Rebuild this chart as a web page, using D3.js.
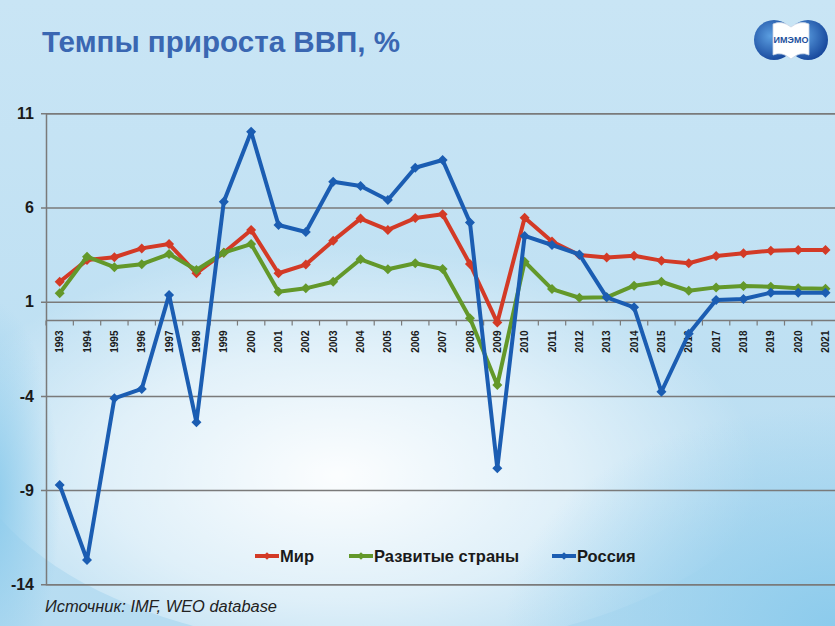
<!DOCTYPE html>
<html>
<head>
<meta charset="utf-8">
<script src="https://cdn.jsdelivr.net/npm/d3@7"></script>
<style>
  body { margin: 0; background: #fff; }
  svg { display: block; font-family: "Liberation Sans", Arial, sans-serif; }
</style>
</head>
<body>
<main></main>
<script>
// data (IMF WEO, % growth)
const years = d3.range(1993, 2022).map(String);
const world = [2.06, 3.21, 3.36, 3.83, 4.06, 2.51, 3.60, 4.81, 2.51, 2.97, 4.24, 5.41, 4.81, 5.44, 5.64, 3.00, -0.11, 5.46, 4.19, 3.48, 3.34, 3.44, 3.18, 3.04, 3.43, 3.57, 3.71, 3.74, 3.74];
const developed = [1.45, 3.39, 2.83, 2.99, 3.53, 2.68, 3.60, 4.06, 1.53, 1.71, 2.06, 3.25, 2.72, 3.04, 2.74, 0.12, -3.42, 3.12, 1.67, 1.21, 1.23, 1.85, 2.06, 1.58, 1.76, 1.83, 1.80, 1.71, 1.69];
const russia = [-8.73, -12.71, -4.13, -3.63, 1.36, -5.40, 6.31, 10.02, 5.07, 4.70, 7.37, 7.14, 6.40, 8.11, 8.52, 5.21, -7.84, 4.49, 4.01, 3.51, 1.23, 0.70, -3.78, -0.70, 1.09, 1.14, 1.48, 1.48, 1.48];
const yTicks = [11, 6, 1, -4, -9, -14];
const seriesNames = ["Мир", "Развитые страны", "Россия"];
const seriesColours = ["#d33a26", "#63982a", "#1b5db2"];

const W = 835, H = 626;

let svg = d3.select("main").append("svg").attr("width", W).attr("height", H);
let defs = svg.append("defs");

// background gradients
let bg = defs.append("linearGradient").attr("id", "bg").attr("x1", 0).attr("y1", 0).attr("x2", 0).attr("y2", 1);
bg.append("stop").attr("offset", 0).attr("stop-color", "#c9e5f5");
bg.append("stop").attr("offset", 1).attr("stop-color", "#b6dcf1");

let glow = defs.append("radialGradient").attr("id", "glow")
  .attr("cx", 0.45).attr("cy", 0.62).attr("r", 0.5);
glow.append("stop").attr("offset", 0).attr("stop-color", "#ffffff").attr("stop-opacity", 0.95);
glow.append("stop").attr("offset", 0.55).attr("stop-color", "#ffffff").attr("stop-opacity", 0.55);
glow.append("stop").attr("offset", 1).attr("stop-color", "#ffffff").attr("stop-opacity", 0);

let edge = defs.append("radialGradient").attr("id", "edge").attr("cx", 0.5).attr("cy", 0.5).attr("r", 0.5);
edge.append("stop").attr("offset", 0).attr("stop-color", "#8ccbec").attr("stop-opacity", 1);
edge.append("stop").attr("offset", 1).attr("stop-color", "#8ccbec").attr("stop-opacity", 0);

svg.append("rect").attr("width", W).attr("height", H).attr("fill", "url(#bg)");
svg.append("ellipse").attr("cx", 380).attr("cy", 420).attr("rx", 420).attr("ry", 230).attr("fill", "url(#glow)");
svg.append("ellipse").attr("cx", -10).attr("cy", 500).attr("rx", 70).attr("ry", 200).attr("fill", "url(#edge)");
svg.append("ellipse").attr("cx", 835).attr("cy", 626).attr("rx", 330).attr("ry", 220).attr("fill", "url(#edge)");

// title
svg.append("text")
  .attr("x", 42).attr("y", 52)
  .attr("textLength", 358).attr("lengthAdjust", "spacingAndGlyphs")
  .attr("font-size", 30).attr("font-weight", "bold").attr("fill", "#3a67b2")
  .text("Темпы прироста ВВП, %");

// logo
let logo = svg.append("g").attr("transform", "translate(791,40)");
let globe = defs.append("radialGradient").attr("id", "globe").attr("cx", 0.4).attr("cy", 0.4).attr("r", 0.65);
globe.append("stop").attr("offset", 0).attr("stop-color", "#5b9ee0");
globe.append("stop").attr("offset", 1).attr("stop-color", "#15459a");
logo.append("circle").attr("cx", -17).attr("cy", 0).attr("r", 20).attr("fill", "url(#globe)");
logo.append("circle").attr("cx", 17).attr("cy", 0).attr("r", 20).attr("fill", "url(#globe)");
logo.append("path")
  .attr("d", "M-18,-16 Q-9,-20 0,-13 Q9,-20 18,-16 L18,15 Q9,11 0,19 Q-9,11 -18,15 Z")
  .attr("fill", "#ffffff").attr("stroke", "#c8d4e6").attr("stroke-width", 0.8);
logo.append("text").attr("x", 0).attr("y", 3).attr("text-anchor", "middle")
  .attr("font-size", 9).attr("font-weight", "bold").attr("fill", "#1d4f9c")
  .text("ИМЭМО");

// scales
let x = d3.scalePoint().domain(years).range([46, 839.2]).padding(0.5);
let y = d3.scaleLinear().domain([-14, 11]).range([584.3, 113.3]);
let step = x.step();

// grid + y axis
svg.append("g")
  .attr("transform", "translate(46,0)")
  .call(d3.axisLeft(y).tickValues(yTicks).tickSize(-(W - 46 + 5)).tickPadding(12).tickFormat(d => String(d)))
  .call(g => g.select(".domain").attr("stroke", "#7a7a7a").attr("stroke-width", 1.5))
  .call(g => g.selectAll(".tick line").attr("x1", -5).attr("stroke", "#7a7a7a").attr("stroke-width", 1.5))
  .call(g => g.selectAll(".tick text")
    .attr("font-size", 16).attr("font-weight", "bold").attr("fill", "#1a1a1a")
    .attr("font-family", "Liberation Sans, Arial, sans-serif"));

// x axis at zero
let xAxis = svg.append("g").attr("transform", `translate(0,${y(0)})`);
xAxis.append("line").attr("x1", 46).attr("x2", W).attr("stroke", "#7a7a7a").attr("stroke-width", 1.5);
xAxis.selectAll("line.tk")
  .data(d3.range(0, 30))
  .enter()
  .append("line")
  .attr("class", "tk")
  .attr("x1", i => 46 + i * step).attr("x2", i => 46 + i * step)
  .attr("y1", 0).attr("y2", 5)
  .attr("stroke", "#7a7a7a").attr("stroke-width", 1.2);
xAxis.selectAll("text")
  .data(years)
  .enter()
  .append("text")
  .attr("transform", d => `translate(${x(d) + 3.6},10) rotate(-90)`)
  .attr("text-anchor", "end")
  .attr("font-size", 10).attr("font-weight", "bold").attr("fill", "#1a1a1a")
  .text(d => d);

// series
let allSeries = [world, developed, russia];
let line = d3.line().x((d, i) => x(years[i])).y(d => y(d));
let diamond = d3.symbol().type(d3.symbolSquare).size(50);

allSeries.forEach((vals, k) => {
  let g = svg.append("g");
  g.append("path")
    .datum(vals)
    .attr("d", line)
    .attr("fill", "none")
    .attr("stroke", seriesColours[k])
    .attr("stroke-width", 4)
    .attr("stroke-linejoin", "round");
  g.selectAll("path.mk")
    .data(vals)
    .enter()
    .append("path")
    .attr("class", "mk")
    .attr("d", diamond)
    .attr("transform", (d, i) => `translate(${x(years[i])},${y(d)}) rotate(45)`)
    .attr("fill", seriesColours[k]);
});

// legend
let legendX = [255, 349, 552];
let legendSymbol = d3.symbol().type(d3.symbolSquare).size(30);
let legend = svg.append("g").attr("transform", "translate(0,556)");
seriesNames.forEach((name, k) => {
  let lg = legend.append("g").attr("transform", `translate(${legendX[k]},0)`);
  lg.append("line").attr("x1", 0).attr("x2", 24).attr("stroke", seriesColours[k]).attr("stroke-width", 4);
  lg.append("path").attr("d", legendSymbol).attr("transform", "translate(12,0) rotate(45)").attr("fill", seriesColours[k]);
  lg.append("text").attr("x", 25).attr("y", 6)
    .attr("font-size", 16.5).attr("font-weight", "bold").attr("fill", "#1a1a1a")
    .text(name);
});

// source note
svg.append("text")
  .attr("x", 45).attr("y", 612)
  .attr("textLength", 232).attr("lengthAdjust", "spacingAndGlyphs")
  .attr("font-size", 16).attr("font-style", "italic").attr("fill", "#222")
  .text("Источник: IMF, WEO database");
</script>
</body>
</html>
